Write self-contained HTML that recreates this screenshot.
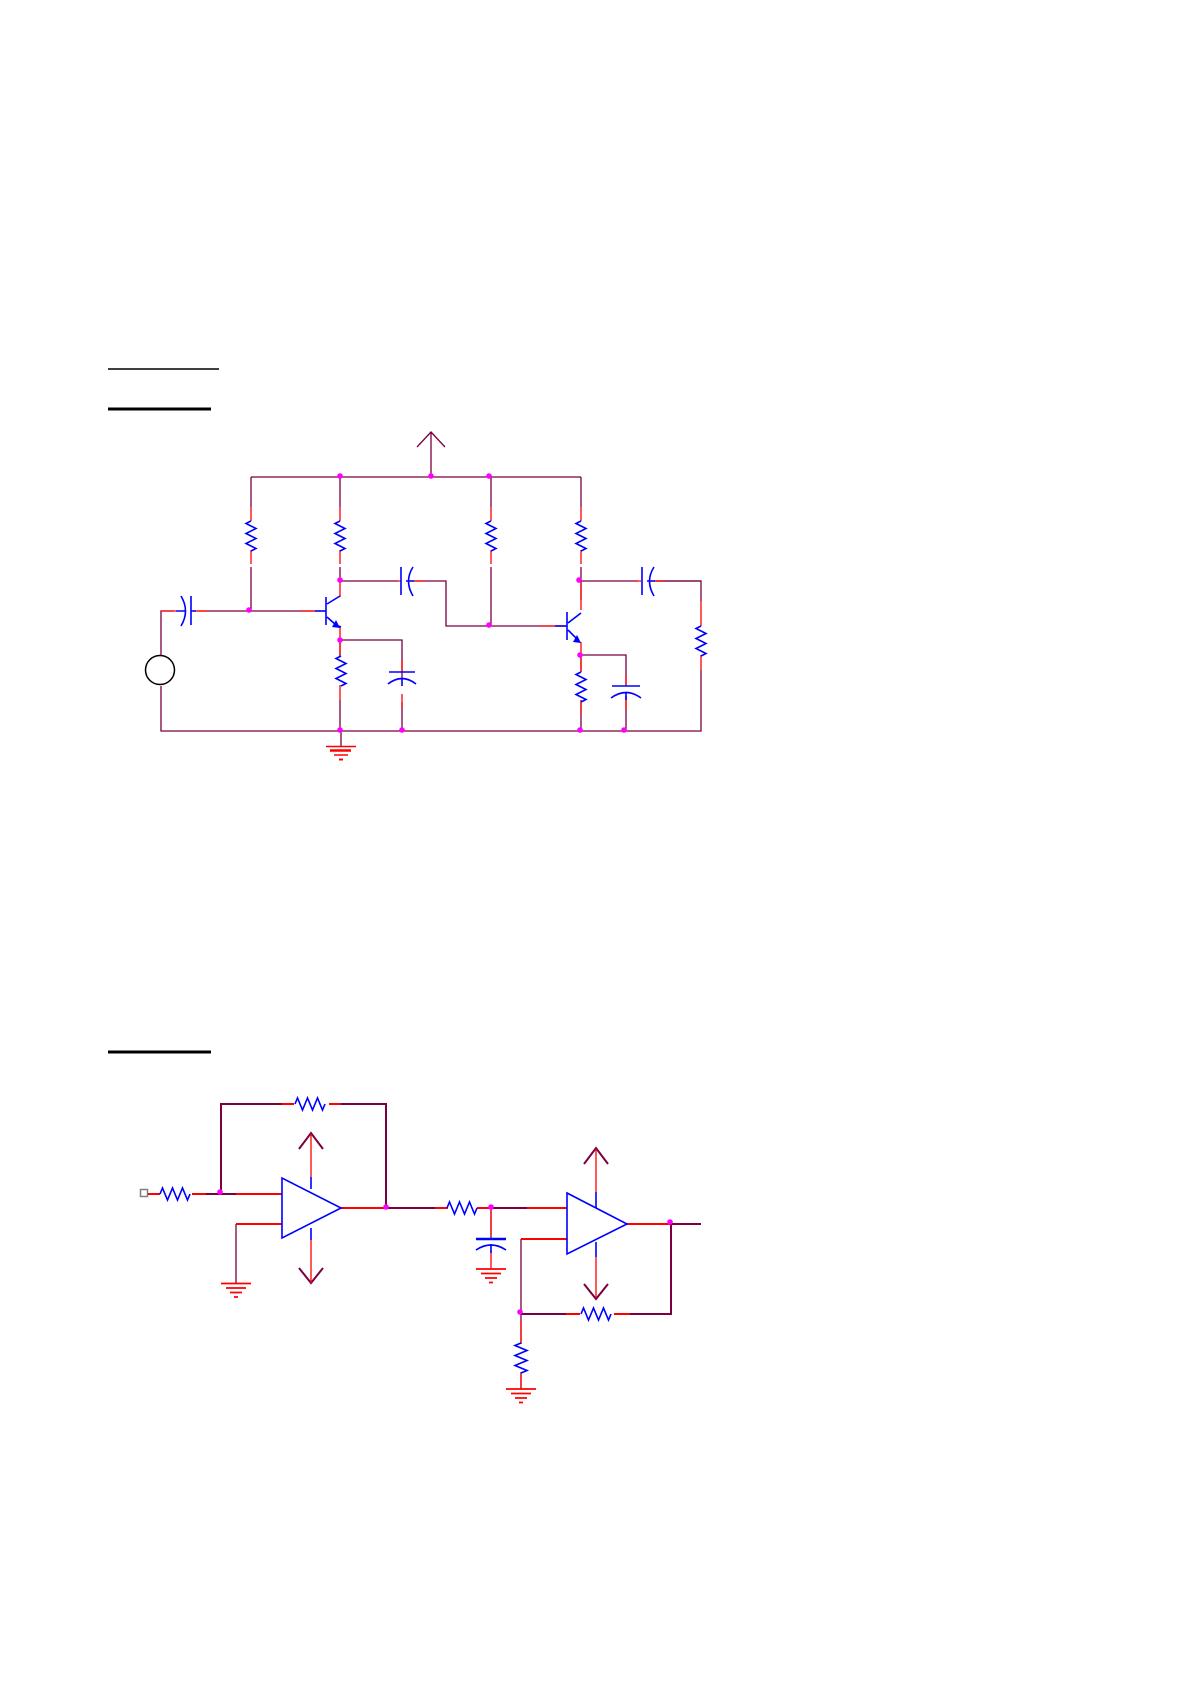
<!DOCTYPE html>
<html><head><meta charset="utf-8"><style>html,body{margin:0;padding:0;background:#fff}svg{display:block}</style></head>
<body>
<svg width="1192" height="1685" viewBox="0 0 1192 1685" xmlns="http://www.w3.org/2000/svg" fill="none" stroke-linecap="butt">
<rect width="1192" height="1685" fill="#fff"/>
<line x1="108" y1="369" x2="219" y2="369" stroke="#000" stroke-width="1.5"/>
<line x1="108" y1="409" x2="211" y2="409" stroke="#000" stroke-width="3"/>
<line x1="108" y1="1052" x2="211" y2="1052" stroke="#000" stroke-width="3"/>

<g stroke="#7a0040" stroke-width="1.3">
<path d="M431 432 V477 M417 447 L431 432 L445 447"/>
<path d="M251 477 H581"/>
<path d="M251 477 V507 M251 567 V611"/>
<path d="M340 477 V507 M340 567 V581"/>
<path d="M491 477 V507 M491 567 V626"/>
<path d="M581 477 V507 M581 567 V581"/>
<path d="M161 655 V611 H174 M197 611 H326"/>
<path d="M161 686 V731 H701 V670 M701 601 V581 H656"/>
<path d="M340 581 H398 M414 581 H446 V626 H566"/>
<path d="M340 640 H402 V680 M402 702 V731"/>
<path d="M340 640 V656 M340 700 V731"/>
<path d="M341 731 V746"/>
<path d="M581 581 V600 M581 581 H638 M654 581 H701"/>
<path d="M581 655 V672 M581 700 V731"/>
<path d="M581 655 H626 V686 M626 696 V731"/>
</g>
<g stroke="#f00" stroke-width="1.3">
<path d="M251 507 V521 M251 550 V564"/>
<path d="M340 507 V521 M340 550 V564"/>
<path d="M491 507 V521 M491 550 V564"/>
<path d="M581 507 V521 M581 550 V564"/>
<path d="M161 611 H176 M193 611 H208 M300 611 H315"/>
<path d="M340 642 V656 M340 685 V700"/>
<path d="M581 657 V672 M581 700 V715"/>
<path d="M581 581 V610 M581 642 V655"/>
<path d="M340 581 V597 M340 627 V640"/>
<path d="M398 581 H401 M410 581 H425 M635 581 H641 M651 581 H665"/>
<path d="M402 660 V672 M402 694 V708 M626 675 V686 M626 696 V710"/>
<path d="M701 601 V626 M701 655 V670"/>
<path d="M540 626 H566"/>
</g>
<g stroke="#f00">
<path d="M326 746.5 H356" stroke-width="1.5"/>
<path d="M330 750.5 H351" stroke-width="2.5"/>
<path d="M334 755 H348" stroke-width="1.5"/>
<path d="M339 759.5 H343" stroke-width="2"/>
</g>
<g stroke="#0000ff" stroke-width="1.6" stroke-linejoin="miter">
<path d="M251 521 l-5 2.5 l10 5 l-10 5 l10 5 l-10 5 l10 5 l-5 2.5"/>
<path d="M340 521 l-5 2.5 l10 5 l-10 5 l10 5 l-10 5 l10 5 l-5 2.5"/>
<path d="M491 521 l-5 2.5 l10 5 l-10 5 l10 5 l-10 5 l10 5 l-5 2.5"/>
<path d="M581 521 l-5 2.5 l10 5 l-10 5 l10 5 l-10 5 l10 5 l-5 2.5"/>
<path d="M341 656 l-5 2.5 l10 5 l-10 5 l10 5 l-10 5 l10 5 l-5 2.5"/>
<path d="M581 672 l-5 2.5 l10 5 l-10 5 l10 5 l-10 5 l10 5 l-5 2.5"/>
<path d="M701 626 l-5 2.5 l10 5 l-10 5 l10 5 l-10 5 l10 5 l-5 2.5"/>
<path d="M191 596 V625 M181 596 Q190 611 181 626 M176 611 H186 M191 611 H196"/>
<path d="M401 567 V595 M413 567 Q404 581 413 596 M406 581 H414"/>
<path d="M642 567 V595 M654 567 Q645 581 654 596 M647 581 H655"/>
<path d="M389 672 H415 M388 684 Q402 673 416 684 M402 678 V686"/>
<path d="M612 686 H640 M611 698 Q626 687 641 698 M626 692 V700"/>
<path d="M326 597 V625 M315 611 H326 M327 604 L340 596 M327 617 L336 625"/>
<path d="M336 625 L341 627" stroke-width="1.6"/>
<path d="M567 612 V640 M555 626 H567 M568 623 L581 613 M568 630 L577 639"/>
</g>
<polygon points="340,628 332,627 336,620" fill="#0000ff"/>
<polygon points="581,643 573,642 577,635" fill="#0000ff"/>
<circle cx="160" cy="670" r="14.5" stroke="#000" stroke-width="1.5"/>
<g fill="#ff00ff">
<circle cx="340" cy="476" r="2.8"/><circle cx="431" cy="476" r="2.8"/><circle cx="489" cy="476" r="2.8"/>
<circle cx="249" cy="610" r="2.8"/><circle cx="340" cy="580" r="2.8"/><circle cx="340" cy="640" r="2.8"/>
<circle cx="489" cy="625" r="2.8"/><circle cx="579" cy="580" r="2.8"/><circle cx="580" cy="655" r="2.8"/>
<circle cx="340" cy="730" r="2.8"/><circle cx="402" cy="730" r="2.8"/><circle cx="580" cy="730" r="2.8"/><circle cx="624" cy="730" r="2.8"/>
</g>

<rect x="140.5" y="1189.5" width="7" height="7" stroke="#808080" stroke-width="1.5"/>
<g stroke="#7a0040" stroke-width="2">
<path d="M206 1194 H236"/>
<path d="M221 1194 V1104 H282 M341 1104 H386 V1207"/>
<path d="M236 1224 V1283" stroke-width="1.3"/>
<path d="M386 1208 H435 M490 1208 H527"/>
<path d="M670 1224 H701"/>
<path d="M521 1239 V1344 M521 1372 V1389" stroke-width="1.3"/>
<path d="M521 1314 H566 M630 1314 H671 V1224"/>
<path d="M299 1149 L311 1133 L323 1149 M311 1133 V1134 M299 1268 L311 1283 L323 1268"/>
<path d="M584 1164 L596 1148 L608 1164 M584 1284 L596 1299 L608 1284"/>
<path d="M491 1208 V1239" stroke-width="1.3"/>
</g>
<g stroke="#f00" stroke-width="2">
<path d="M148 1194 H160 M192 1194 H206 M236 1194 H282"/>
<path d="M282 1104 H294 M329 1104 H341"/>
<path d="M236 1224 H282"/>
<path d="M341 1208 H386 M435 1208 H448 M477 1208 H490 M527 1208 H567"/>
<path d="M627 1224 H670"/>
<path d="M521 1239 H567"/>
<path d="M566 1314 H580 M614 1314 H630"/>
<path d="M311 1134 V1177 M311 1240 V1283" stroke-width="1.3"/>
<path d="M596 1149 V1192 M596 1257 V1298" stroke-width="1.3"/>
<path d="M491 1208 V1235 M491 1250 V1269" stroke-width="1.3"/>
<path d="M521 1320 V1342 M521 1374 V1389" stroke-width="1.3"/>
<path d="M221 1283.5 H251 M226 1288 H246 M230 1292.5 H242 M234 1297 H238" stroke-width="1.8"/>
<path d="M476 1269 H506 M481 1273.5 H501 M485 1278 H497 M489 1282.5 H493" stroke-width="1.8"/>
<path d="M506 1389 H536 M511 1393.5 H531 M515 1398 H527 M519 1402.5 H523" stroke-width="1.8"/>
</g>
<g stroke="#0000ff" stroke-width="1.6">
<path d="M160 1194 l2.5 -6 l5 12 l5 -12 l5 12 l5 -12 l5 12 l2.5 -6"/>
<path d="M295 1104 l2.5 -6 l5 12 l5 -12 l5 12 l5 -12 l5 12 l2.5 -6"/>
<path d="M447 1208 l2.5 -6 l5 12 l5 -12 l5 12 l5 -12 l5 12 l2.5 -6"/>
<path d="M581 1314 l2.5 -6 l5 12 l5 -12 l5 12 l5 -12 l5 12 l2.5 -6"/>
<path d="M521 1343 l-6 2.5 l12 5 l-12 5 l12 5 l-12 5 l12 5 l-6 2.5"/>
<path d="M282 1178 V1238 L341 1208 Z"/>
<path d="M311 1177 V1189 M311 1228 V1240"/>
<path d="M567 1193 V1254 L627 1224 Z"/>
<path d="M596 1192 V1208 M596 1242 V1257"/>
<path d="M476 1239 H506" stroke-width="2.5"/>
<path d="M476 1250 Q491 1240 506 1250 M491 1244 V1253"/>
</g>
<g fill="#ff00ff">
<circle cx="220" cy="1192" r="2.8"/><circle cx="386" cy="1207" r="2.8"/><circle cx="491" cy="1207" r="2.8"/>
<circle cx="670" cy="1222" r="2.8"/><circle cx="520" cy="1312" r="2.8"/>
</g>
</svg>
</body></html>
